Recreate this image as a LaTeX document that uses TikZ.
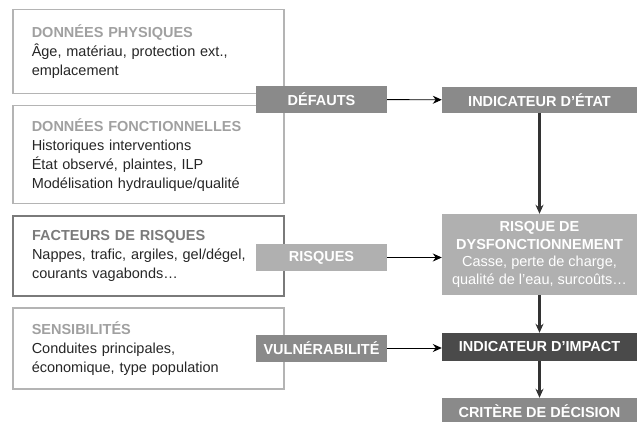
\documentclass[tikz,border=0pt]{standalone}
\usepackage{fontspec}
\setmainfont{Liberation Sans}
\usetikzlibrary{arrows.meta,calc}
\usepackage{xcolor}
\definecolor{framelight}{HTML}{B4B4B4}
\definecolor{framedark}{HTML}{7A7A7A}
\definecolor{titlelight}{HTML}{A0A0A0}
\definecolor{titledark}{HTML}{7A7A7A}
\definecolor{tagmid}{HTML}{8A8A8A}
\definecolor{taglight}{HTML}{B0B0B0}
\definecolor{tagdark}{HTML}{4A4A4A}

\begin{document}
\begin{tikzpicture}[x=1pt,y=-1pt,
    srcbox/.style={draw=framelight,line width=1.5pt,text width=233pt,inner xsep=19pt,inner ysep=0pt,
        align=left,anchor=north west,text=black!85,font=\fontsize{14.5}{19}\selectfont},
    tagbox/.style={fill=#1,text=white,font=\bfseries\fontsize{14.5}{17.5}\selectfont,
        minimum width=131pt,minimum height=27pt,inner sep=0pt},
    resbox/.style={fill=#1,text=white,font=\bfseries\fontsize{14.5}{17.5}\selectfont,
        minimum width=195pt,inner sep=0pt,align=center},
    link/.style={-{Stealth[length=9pt,width=8pt]},line width=0.9pt},
    flow/.style={-{Stealth[length=9pt,width=8pt]},line width=2.4pt,draw=black!80}]
    \useasboundingbox (0,0) rectangle (637,422);

    % sources
    \node[srcbox,minimum height=84pt] (phys) at (12,9)
        {{\bfseries\color{titlelight}DONNÉES PHYSIQUES}\\
         Âge, matériau, protection ext.,\\ emplacement};
    \node[srcbox,minimum height=98pt] (fonct) at (12,105)
        {{\bfseries\color{titlelight}DONNÉES FONCTIONNELLES}\\
         Historiques interventions\\ État observé, plaintes, ILP\\ Modélisation hydraulique/qualité};
    \node[srcbox,draw=framedark,line width=2pt,minimum height=80pt] (facteurs) at (12,215)
        {{\bfseries\color{titledark}FACTEURS DE RISQUES}\\
         Nappes, trafic, argiles, gel/dégel,\\ courants vagabonds…};
    \node[srcbox,minimum height=81pt] (sensib) at (12,307)
        {{\bfseries\color{titlelight}SENSIBILITÉS}\\
         Conduites principales,\\ économique, type population};

    % tags
    \node[tagbox=tagmid] (defauts) at (321.5,99.5) {DÉFAUTS};
    \node[tagbox=taglight] (risques) at (321.5,257.5) {RISQUES};
    \node[tagbox=tagmid] (vuln) at (321.5,348) {VULNÉRABILITÉ};

    % results
    \node[resbox=tagmid,minimum height=26pt] (etat) at (539.5,100) {INDICATEUR D'ÉTAT};
    \node[resbox=taglight,minimum height=81pt] (dysf) at (539.5,254.5)
        {RISQUE DE\\ DYSFONCTIONNEMENT\\
         {\mdseries Casse, perte de charge,}\\ {\mdseries qualité de l'eau, surcoûts…}};
    \node[resbox=tagdark,minimum height=28pt] (impact) at (539.5,347) {INDICATEUR D'IMPACT};
    \node[resbox=tagmid,minimum height=26pt] (critere) at (539.5,411) {CRITÈRE DE DÉCISION};

    \draw[link] (defauts) -- (etat);
    \draw[link] (risques.east) -- (risques.east -| dysf.west);
    \draw[link] (vuln.east) -- (vuln.east -| impact.west);
    \draw[flow] (etat) -- (dysf);
    \draw[flow] (dysf) -- (impact);
    \draw[flow] (impact) -- (critere);
\end{tikzpicture}
\end{document}
